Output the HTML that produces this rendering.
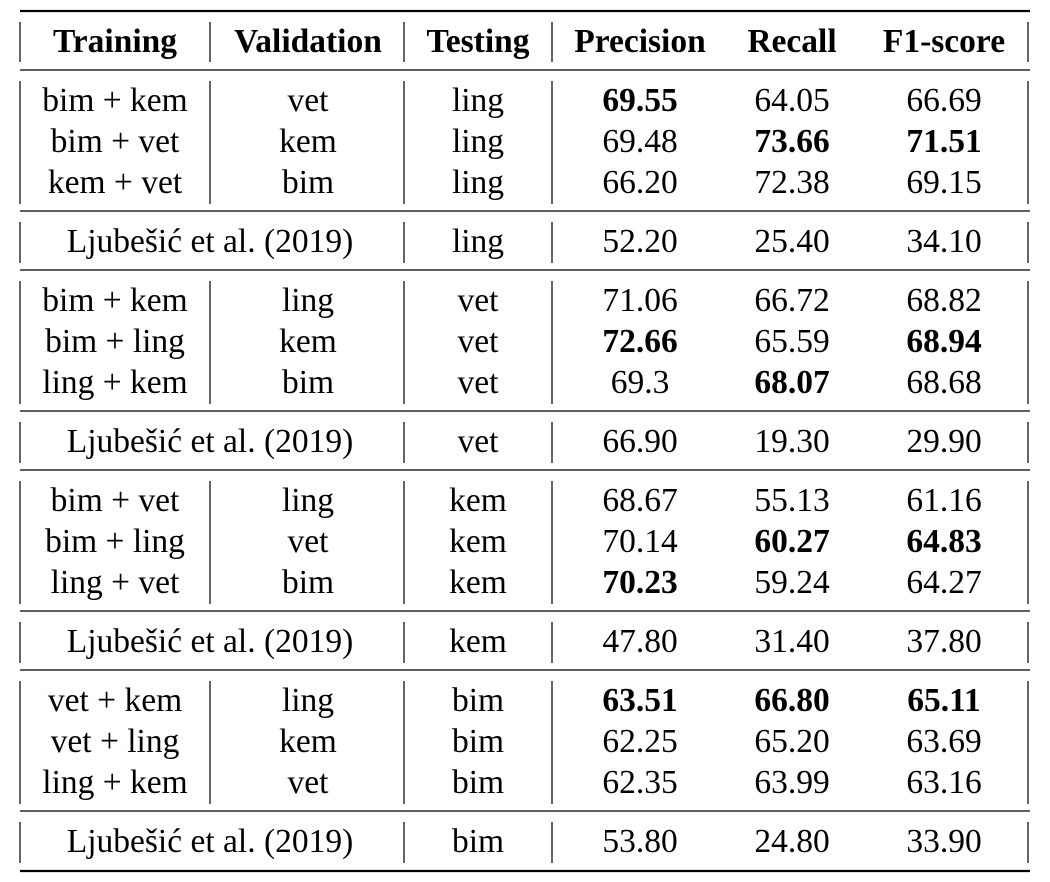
<!DOCTYPE html>
<html><head><meta charset="utf-8">
<style>
html,body{margin:0;padding:0;background:#fff;}
svg{display:block;}
svg text{font-family:"Liberation Serif","Times New Roman",Tinos,"Nimbus Roman","DejaVu Serif",serif !important;font-size:33.5px;fill:#000;}
.h{font-weight:bold;}
.b{font-weight:bold;}
</style></head>
<body>
<svg id="tbl" width="1050" height="882" xmlns="http://www.w3.org/2000/svg"></svg>
<script>
const headers = ["Training","Validation","Testing","Precision","Recall","F1-score"];
const groups = [
  {rows:[["bim + kem","vet","ling","69.55","64.05","66.69"],["bim + vet","kem","ling","69.48","73.66","71.51"],["kem + vet","bim","ling","66.20","72.38","69.15"]],
   bold:[[3],[4,5],[]], base:["ling","52.20","25.40","34.10"]},
  {rows:[["bim + kem","ling","vet","71.06","66.72","68.82"],["bim + ling","kem","vet","72.66","65.59","68.94"],["ling + kem","bim","vet","69.3","68.07","68.68"]],
   bold:[[],[3,5],[4]], base:["vet","66.90","19.30","29.90"]},
  {rows:[["bim + vet","ling","kem","68.67","55.13","61.16"],["bim + ling","vet","kem","70.14","60.27","64.83"],["ling + vet","bim","kem","70.23","59.24","64.27"]],
   bold:[[],[4,5],[3]], base:["kem","47.80","31.40","37.80"]},
  {rows:[["vet + kem","ling","bim","63.51","66.80","65.11"],["vet + ling","kem","bim","62.25","65.20","63.69"],["ling + kem","vet","bim","62.35","63.99","63.16"]],
   bold:[[3,4,5],[],[]], base:["bim","53.80","24.80","33.90"]}
];
const baseLabel = "Ljubešić et al. (2019)";

const svg = document.getElementById('tbl');
const NS = "http://www.w3.org/2000/svg";
const colX = [115,308,478,640,792,944];
const vx = [20,210,404,552,1028];
function line(x1,y1,x2,y2,w,name){
  const l=document.createElementNS(NS,'line');
  l.setAttribute('x1',x1);l.setAttribute('y1',y1);l.setAttribute('x2',x2);l.setAttribute('y2',y2);
  l.setAttribute('stroke','#000');l.setAttribute('stroke-width',w);
  
  
  svg.appendChild(l);
}
function txt(x,y,s,cls,name){
  const t=document.createElementNS(NS,'text');
  t.setAttribute('x',x);t.setAttribute('y',y);t.setAttribute('text-anchor','middle');
  if(cls) t.setAttribute('class',cls);
  t.textContent=s;
  
  
  svg.appendChild(t);
}
line(20,11,1030,11,2.2,'top-rule');
line(20,70,1030,70,1.3,'header-rule');
line(20,871,1030,871,2.2,'bottom-rule');
headers.forEach((h,i)=>txt(colX[i],52,h,'h','header-'+h.toLowerCase()));
vx.forEach(x=>line(x,22,x,62,1.2,'header-divider'));
let y0 = 70;
groups.forEach((g,gi)=>{
  g.rows.forEach((r,ri)=>{
    const by = y0 + 41 + ri*41;
    r.forEach((c,ci)=>txt(colX[ci],by,c,g.bold[ri].includes(ci)?'b':'', 'cell-g'+(gi+1)+'-r'+(ri+1)+'-c'+(ci+1)));
  });
  vx.forEach(x=>line(x,y0+11,x,y0+134,1.2,'group-divider'));
  line(20,y0+141,1030,y0+141,1.3,'group-rule');
  const by2 = y0+141+41;
  txt(210,by2,baseLabel,'','baseline-label');
  g.base.forEach((c,ci)=>txt(colX[ci+2],by2,c,'','baseline-g'+(gi+1)+'-c'+(ci+1)));
  [20,404,552,1028].forEach(x=>line(x,y0+152,x,y0+193,1.2,'baseline-divider'));
  if(gi<3) line(20,y0+200,1030,y0+200,1.3,'section-rule');
  y0 += 200;
});
</script>
</body></html>
